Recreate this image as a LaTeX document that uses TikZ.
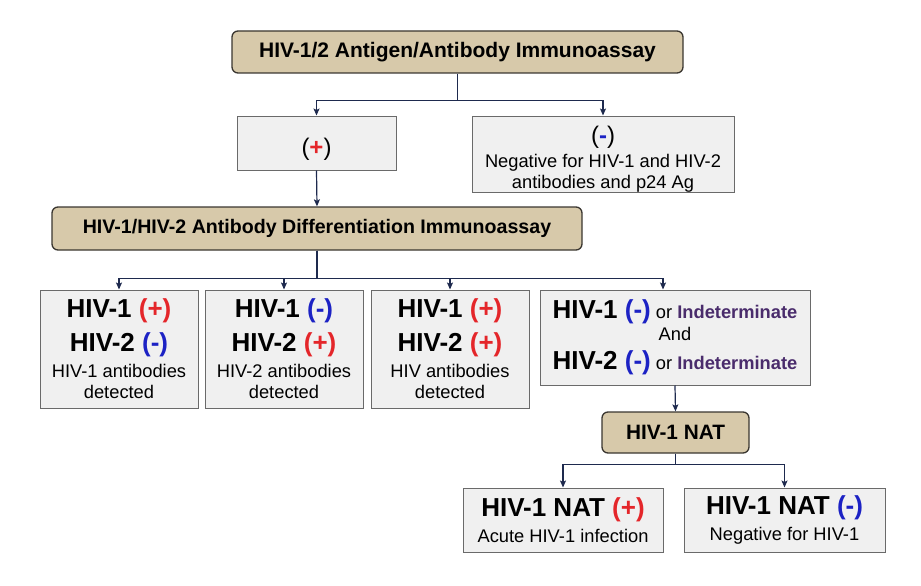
\documentclass[tikz,border=0pt]{standalone}
\usepackage{fontspec}
\setmainfont{Liberation Sans}
\usetikzlibrary{arrows.meta}
\definecolor{tanfill}{HTML}{D7C9AA}
\definecolor{tanedge}{HTML}{3A3630}
\definecolor{resfill}{HTML}{F0F0F0}
\definecolor{resedge}{HTML}{6A6A6A}
\definecolor{pilnavy}{HTML}{1E2A4E}
\definecolor{posred}{HTML}{E4262A}
\definecolor{negblue}{HTML}{1C22C4}
\definecolor{indpurple}{HTML}{4A2C6C}
\newcommand{\bigtxt}{\fontsize{26}{30}\selectfont\bfseries}
\newcommand{\restxt}{\fontsize{18.3}{21}\selectfont\setlength{\lineskiplimit}{-50pt}}
\newcommand{\plusmark}{\textcolor{posred}{(+)}}
\newcommand{\minusmark}{\textcolor{negblue}{(-)}}
\newcommand{\indet}{\textcolor{indpurple}{\textbf{Indeterminate}}}

\begin{document}
\begin{tikzpicture}[
    x=1pt, y=-1pt,
    test/.style = {rectangle, rounded corners=6pt, draw=tanedge, fill=tanfill, line width=1.3pt,
                   inner sep=0pt, font=\fontsize{20.8}{24}\selectfont\bfseries},
    res/.style = {rectangle, draw=resedge, fill=resfill, line width=1pt, inner sep=0pt, align=center,
                  font=\restxt},
    pil/.style = {pilnavy, line width=1.2pt, -{Stealth[length=7pt,width=6pt,inset=1.5pt]}}
    ]

  \useasboundingbox (0,0) rectangle (921,586);

  \node[test, minimum width=451pt, minimum height=42pt, font=\fontsize{21}{24}\selectfont\bfseries] (agab) at (457.5,52) {HIV-1/2 Antigen/Antibody Immunoassay} ;

  \node[res, minimum width=159pt, minimum height=54pt] (pos) at (316.5,143) {\rule{0pt}{29.5pt}\fontsize{24}{24}\selectfont(\textcolor{posred}{\textbf{+}})} ;
  \node[res, minimum width=262pt, minimum height=76pt] (neg) at (603,154)
    {\rule{0pt}{27pt}{\fontsize{24}{24}\selectfont(\textcolor{negblue}{\textbf{-}})}\\[3pt] Negative for HIV-1 and HIV-2\\ antibodies and p24 Ag} ;

  \node[test, minimum width=530pt, minimum height=43pt, font=\fontsize{19.6}{24}\selectfont\bfseries] (diff) at (317,228.5) {HIV-1/HIV-2 Antibody Differentiation Immunoassay} ;

  \node[res, minimum width=158pt, minimum height=118pt] (hiv1) at (119,349)
    {{\bigtxt HIV-1 \plusmark}\\[13pt] {\bigtxt HIV-2 \minusmark}\\[5pt] HIV-1 antibodies\\ detected} ;
  \node[res, minimum width=158pt, minimum height=118pt] (hiv2) at (284,349)
    {{\bigtxt HIV-1 \minusmark}\\[13pt] {\bigtxt HIV-2 \plusmark}\\[5pt] HIV-2 antibodies\\ detected} ;
  \node[res, minimum width=158pt, minimum height=118pt] (both) at (450,349)
    {{\bigtxt HIV-1 \plusmark}\\[13pt] {\bigtxt HIV-2 \plusmark}\\[5pt] HIV antibodies\\ detected} ;
  \node[res, minimum width=270pt, minimum height=95pt] (indet) at (675,337.5)
    {{\bigtxt HIV-1 \minusmark} or \indet\\[1pt] And\\[8pt] {\bigtxt HIV-2 \minusmark} or \indet} ;

  \node[test, minimum width=147pt, minimum height=41pt] (nat) at (675.5,432.5) {HIV-1 NAT} ;

  \node[res, minimum width=200pt, minimum height=64pt] (natpos) at (563,520)
    {{\bigtxt HIV-1 NAT \plusmark}\\[5pt] Acute HIV-1 infection} ;
  \node[res, minimum width=201pt, minimum height=64pt] (natneg) at (784.5,520)
    {{\bigtxt HIV-1 NAT \minusmark}\\[5pt] Negative for HIV-1} ;

  \draw[pil] (agab.south) -- ++(0,27) -| (pos.north) ;
  \draw[pil] (agab.south) -- ++(0,27) -| (neg.north) ;
  \draw[pil] (pos.south) -- (diff.north) ;

  \draw[pil] (diff.south) -- ++(0,28) -| (hiv1.north) ;
  \draw[pil] (diff.south) -- ++(0,28) -| (hiv2.north) ;
  \draw[pil] (diff.south) -- ++(0,28) -| (both.north) ;
  \draw[pil] (diff.south) -- ++(0,28) -| ([xshift=-12pt]indet.north) ;

  \draw[pil] (indet.south) -- (nat.north) ;
  \draw[pil] (nat.south) -- ++(0,11) -| (natpos.north) ;
  \draw[pil] (nat.south) -- ++(0,11) -| (natneg.north) ;

\end{tikzpicture}
\end{document}
